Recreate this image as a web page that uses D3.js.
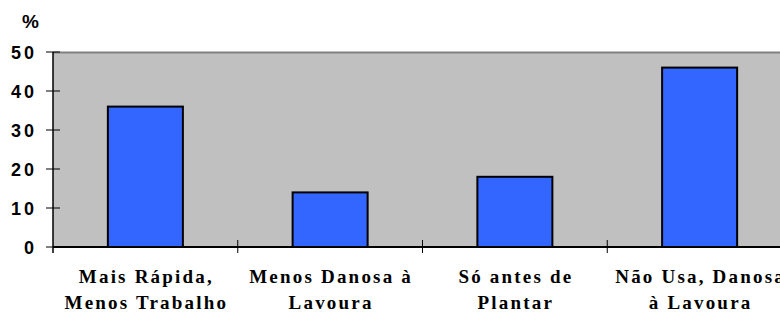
<!DOCTYPE html>
<html>
<head>
<meta charset="UTF-8">
<title>Uso</title>
<script src="https://d3js.org/d3.v7.min.js"></script>
<style>
  body { margin: 0; background: #fff; }
</style>
</head>
<body>
<svg id="chart" width="780" height="312"></svg>
<script>
const categories = [
  ["Mais Rápida,", "Menos Trabalho"],
  ["Menos Danosa à", "Lavoura"],
  ["Só antes de", "Plantar"],
  ["Não Usa, Danosa", "à Lavoura"]
];
const values = [36, 14, 18, 46];
const yTicks = [0, 10, 20, 30, 40, 50];

const svg = d3.select("#chart");
const plotLeft = 53, plotTop = 52, plotBottom = 247, plotRight = 792;

const x = d3.scaleBand()
  .domain(d3.range(categories.length))
  .range([plotLeft, plotRight])
  .paddingInner(0.594)
  .paddingOuter(0.297);

const xb = d3.scaleBand()
  .domain(d3.range(categories.length))
  .range([plotLeft, plotRight]);

const y = d3.scaleLinear().domain([0, 50]).range([plotBottom, plotTop]);

// plot background
svg.append("rect")
  .attr("x", plotLeft).attr("y", plotTop)
  .attr("width", plotRight - plotLeft).attr("height", plotBottom - plotTop)
  .attr("fill", "#c0c0c0");
svg.append("line")
  .attr("x1", plotLeft).attr("x2", plotRight)
  .attr("y1", plotTop + 0.5).attr("y2", plotTop + 0.5)
  .attr("stroke", "#808080").attr("stroke-width", 2);

// bars
svg.selectAll(".bar")
  .data(values)
  .enter().append("rect")
  .attr("class", "bar")
  .attr("x", (d, i) => x(i))
  .attr("y", d => y(d))
  .attr("width", x.bandwidth())
  .attr("height", d => plotBottom - y(d))
  .attr("fill", "#3366ff")
  .attr("stroke", "#000")
  .attr("stroke-width", 2);

// y axis
const yAxis = svg.append("g").attr("transform", `translate(${plotLeft},0)`);
yAxis.append("line")
  .attr("x1", 0).attr("x2", 0).attr("y1", plotTop).attr("y2", plotBottom + 6)
  .attr("stroke", "#000").attr("stroke-width", 1.5);
yAxis.selectAll(".yt")
  .data(yTicks)
  .enter().append("line")
  .attr("x1", -7).attr("x2", 7)
  .attr("y1", d => y(d)).attr("y2", d => y(d))
  .attr("stroke", "#000").attr("stroke-width", 1);
yAxis.selectAll(".yl")
  .data(yTicks)
  .enter().append("text")
  .attr("x", -16)
  .attr("y", d => y(d) + 6.5)
  .attr("text-anchor", "end")
  .attr("font-family", "Liberation Sans")
  .attr("font-weight", "bold")
  .attr("font-size", 18)
  .attr("letter-spacing", 3)
  .text(d => d);

svg.append("text")
  .attr("x", 22).attr("y", 28)
  .attr("font-family", "Liberation Sans")
  .attr("font-weight", "bold")
  .attr("font-size", 19)
  .text("%");

// x axis
svg.append("line")
  .attr("x1", plotLeft).attr("x2", plotRight)
  .attr("y1", plotBottom).attr("y2", plotBottom)
  .attr("stroke", "#000").attr("stroke-width", 2);
svg.selectAll(".xt")
  .data(d3.range(1, categories.length))
  .enter().append("line")
  .attr("x1", d => xb(d)).attr("x2", d => xb(d))
  .attr("y1", plotBottom - 7).attr("y2", plotBottom + 6)
  .attr("stroke", "#000").attr("stroke-width", 1);

const labels = svg.selectAll(".xl")
  .data(categories)
  .enter().append("text")
  .attr("text-anchor", "middle")
  .attr("font-family", "Liberation Serif")
  .attr("font-weight", "bold")
  .attr("font-size", 19)
  .attr("letter-spacing", 2.2);
labels.selectAll("tspan")
  .data((d, i) => d.map(t => ({ t, i })))
  .enter().append("tspan")
  .attr("x", d => xb(d.i) + xb.bandwidth() / 2 + 1)
  .attr("y", (d, j) => 283 + j * 26)
  .text(d => d.t);
</script>
</body>
</html>
